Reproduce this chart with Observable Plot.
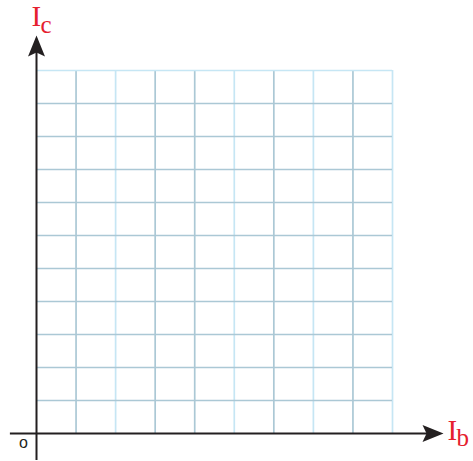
<!DOCTYPE html>
<html>
<head>
<meta charset="utf-8">
<script src="https://cdn.jsdelivr.net/npm/d3@7"></script>
<script src="https://cdn.jsdelivr.net/npm/@observablehq/plot@0.6"></script>
<style>
  html, body { margin: 0; padding: 0; background: #fff; }
</style>
</head>
<body>
<div id="chart"></div>
<script>
// Axis labels (I with subscript)
const xLabel = ["I", "b"];
const yLabel = ["I", "c"];
const originLabel = ["o"];
// Grid line positions (data units)
const ibGrid = [1, 2, 3, 4, 5, 6, 7, 8, 9];
const icGrid = [1, 2, 3, 4, 5, 6, 7, 8, 9, 10, 11];
// Axis extents (data units)
const ibAxis = [-0.66, 10.2];
const icAxis = [-0.82, 11.95];
const ibArrowTip = 10.29;
const icArrowTip = 12.06;

const lightCols = new Set([2, 5, 7, 9]);
const lightRows = new Set([11]);
const red = "#e5202e";
const ink = "#231f20";
const gridDark = "#abc8d5";
const gridLight = "#c6e6f4";

const arrowHead = {
  draw(ctx) {
    ctx.moveTo(0, 0);
    ctx.lineTo(8.5, 21);
    ctx.lineTo(0, 17);
    ctx.lineTo(-8.5, 21);
    ctx.closePath();
  }
};

const serif = "'Liberation Serif', 'DejaVu Serif', serif";

const chart = Plot.plot({
  width: 473,
  height: 461,
  marginLeft: 36,
  marginRight: 81,
  marginTop: 70,
  marginBottom: 28,
  x: {domain: [0, 9], axis: null},
  y: {domain: [0, 11], axis: null},
  marks: [
    Plot.ruleX(ibGrid, {x: d => d, stroke: d => lightCols.has(d) ? gridLight : gridDark, strokeWidth: 1.7}),
    Plot.ruleY(icGrid, {y: d => d, stroke: d => lightRows.has(d) ? gridLight : gridDark, strokeWidth: 1.7}),
    Plot.ruleY([0], {x1: ibAxis[0], x2: ibAxis[1], stroke: ink, strokeWidth: 2}),
    Plot.ruleX([0], {y1: icAxis[0], y2: icAxis[1], stroke: ink, strokeWidth: 2}),
    Plot.dot([0], {x: 0, y: icArrowTip, symbol: arrowHead, fill: ink, stroke: null}),
    Plot.dot([0], {x: ibArrowTip, y: 0, symbol: arrowHead, fill: ink, stroke: null, rotate: 90}),
    // y label
    Plot.text([yLabel[0]], {frameAnchor: "top-left", text: d => d, dx: -5, dy: -45, textAnchor: "start", lineAnchor: "bottom", fill: red, fontSize: 29, fontFamily: serif}),
    Plot.text([yLabel[1]], {frameAnchor: "top-left", text: d => d, dx: 4, dy: -38, textAnchor: "start", lineAnchor: "bottom", fill: red, fontSize: 25, fontFamily: serif}),
    // x label
    Plot.text([xLabel[0]], {frameAnchor: "bottom-right", text: d => d, dx: 55, dy: 6, textAnchor: "start", lineAnchor: "bottom", fill: red, fontSize: 29, fontFamily: serif}),
    Plot.text([xLabel[1]], {frameAnchor: "bottom-right", text: d => d, dx: 64, dy: 12, textAnchor: "start", lineAnchor: "bottom", fill: red, fontSize: 25, fontFamily: serif}),
    // origin
    Plot.text(originLabel, {frameAnchor: "bottom-left", text: d => d, dx: -13, dy: 9, textAnchor: "middle", lineAnchor: "middle", fill: ink, fontSize: 16, fontFamily: "'Liberation Sans', Arial, sans-serif"})
  ]
});
document.getElementById("chart").appendChild(chart);
</script>
</body>
</html>
